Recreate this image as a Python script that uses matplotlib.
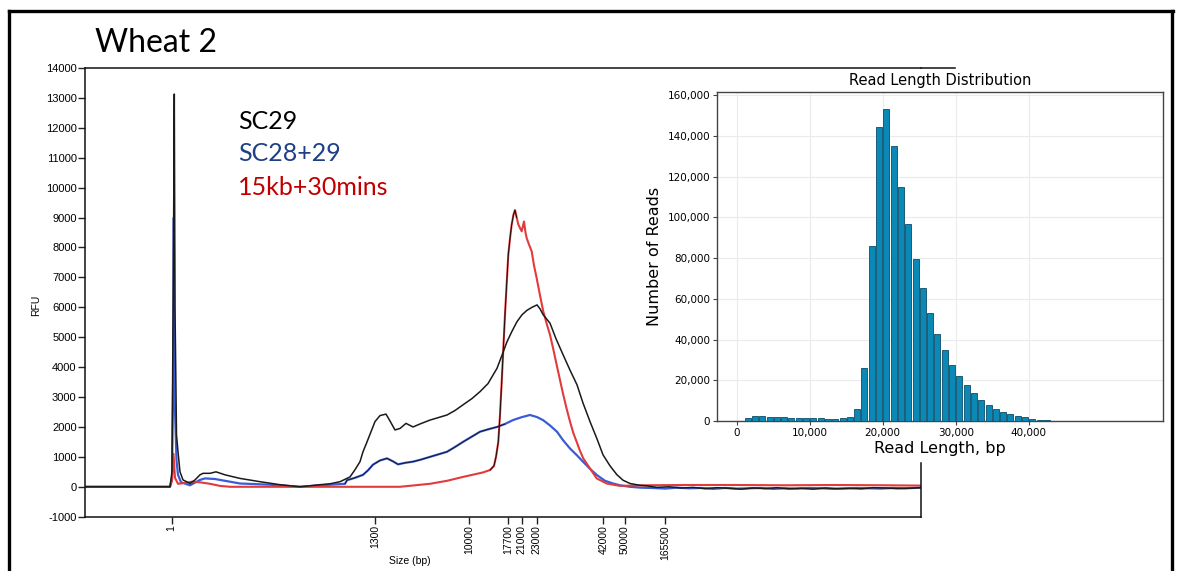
import matplotlib
matplotlib.use('Agg')
import matplotlib.pyplot as plt
from matplotlib.lines import Line2D
import numpy as np

# ---------------- data ----------------
# Electropherogram: migration position (arbitrary units) vs RFU
sc29_pos = [0, 85, 87, 88.5, 89.3, 90, 91.5, 93, 95, 98, 105, 110, 115, 118, 125, 131, 140, 155, 175, 195,
            215, 235, 245, 255, 265, 270, 275, 278, 282, 286, 290, 295, 301, 305, 310, 315, 321, 328, 335,
            345, 355, 362, 370, 378, 387, 395, 403, 412, 417, 422, 427, 432, 437, 442, 447, 452, 455, 458,
            465, 471, 478, 485, 492, 498, 505, 512, 518, 525, 532, 538, 545, 555, 562, 572, 584, 596, 608,
            620, 632, 644, 656, 668, 680, 692, 704, 716, 728, 740, 752, 764, 776, 788, 800, 812, 824, 836]
sc29_rfu = [0, 0, 500, 8000, 13130, 6000, 1740, 1170, 500, 230, 110, 230, 400, 450, 450, 500, 400, 280, 170, 70,
            0, 70, 100, 170, 330, 570, 840, 1170, 1500, 1840, 2180, 2380, 2430, 2200, 1900, 1950, 2120, 2000, 2100,
            2230, 2330, 2400, 2550, 2740, 2950, 3180, 3450, 3960, 4400, 4850, 5200, 5520, 5750, 5900, 6000, 6080, 5950, 5760,
            5470, 4950, 4420, 3900, 3410, 2800, 2180, 1600, 1070, 700, 400, 220, 110, 50, 30, -20, 0, -40, -20,
            -60, -30, -50, -80, -40, -60, -30, -70, -50, -80, -40, -60, -50, -70, -30, -40, -60, -50, -30]

sc2829_pos = [0, 85, 87, 88.3, 88.8, 89.6, 91.5, 93, 96, 105, 115, 120, 130, 140, 155, 185, 215, 245, 260,
              262, 270, 278, 283, 288, 295, 302, 308, 313, 320, 328, 335, 345, 355, 362, 370, 378, 387, 395,
              403, 412, 420, 428, 437, 445, 452, 458, 465, 472, 478, 485, 492, 498, 505, 512, 520, 528, 535,
              545, 556, 568, 580, 592, 604, 616, 628, 640, 652, 664, 676, 688, 700, 712, 724, 736, 748, 760,
              772, 784, 796, 808, 820, 836]
sc2829_rfu = [0, 0, 300, 4000, 9000, 3000, 900, 400, 150, 50, 230, 280, 260, 200, 110, 70, 0, 70, 100,
              220, 300, 400, 550, 740, 880, 950, 850, 750, 800, 840, 900, 1000, 1100, 1170, 1330, 1500, 1680, 1840,
              1920, 2000, 2100, 2230, 2330, 2400, 2330, 2230, 2050, 1840, 1560, 1280, 1050, 840, 600, 390, 200, 110, 50,
              0, -30, -40, -60, -30, -50, -40, -70, -40, -60, -50, -40, -70, -50, -60, -40, -50, -70, -60,
              -40, -50, -60, -40, -50, -30]

kb15_pos = [0, 85, 87, 88.5, 90, 93, 100, 107, 115, 125, 135, 145, 315, 345, 362, 378, 390, 398, 405, 409,
            411, 413.3, 415, 416.7, 418.3, 420, 421.7, 423.3, 425, 426.7, 428.5, 430, 431.7, 433.3, 435, 436.7,
            439, 440.5, 441.7, 444, 446.7, 449, 451.7, 455, 458.3, 461.7, 465, 468.3, 471.7, 475, 478.3, 481.7,
            485, 488.3, 491.7, 495, 498.3, 505, 511.7, 521.7, 535, 560, 600, 650, 700, 750, 800, 836]
kb15_rfu = [0, 0, 200, 1100, 300, 100, 130, 170, 150, 100, 30, 0, 0, 100, 200, 330, 420, 480, 560, 700,
            1000, 1500, 2400, 3500, 4600, 5760, 6800, 7760, 8300, 8770, 9100, 9250, 9000, 8770, 8650, 8540,
            8870, 8500, 8310, 8100, 7870, 7400, 6970, 6400, 5860, 5450, 5080, 4600, 4070, 3570, 3070, 2600,
            2180, 1800, 1500, 1200, 950, 610, 280, 110, 30, 50, 60, 60, 50, 60, 50, 40]

size_tick_pos = [86.7, 290, 384.3, 423.3, 436.7, 451.7, 518.3, 540, 580]
size_tick_labels = ['1', '1300', '10000', '17700', '21000', '23000', '42000', '50000', '165500']
rfu_ticks = [-1000, 0, 1000, 2000, 3000, 4000, 5000, 6000, 7000, 8000, 9000, 10000, 11000, 12000, 13000, 14000]

# Inset histogram: read length bin centre (bp) vs number of reads
read_len = [1500, 2500, 3500, 4500, 5500, 6500, 7500, 8500, 9500, 10500, 11500, 12500, 13500, 14500,
            15500, 16500, 17500, 18500, 19500, 20500, 21500, 22500, 23500, 24500, 25500, 26500, 27500,
            28500, 29500, 30500, 31500, 32500, 33500, 34500, 35500, 36500, 37500, 38500, 39500, 40500,
            41500, 42500, 43500]
n_reads = [1300, 2300, 2300, 2000, 1900, 1800, 1700, 1600, 1500, 1400, 1300, 1100, 1100, 1300,
           2100, 5900, 26200, 86000, 144500, 153000, 135000, 115000, 96500, 79500, 65500, 53000, 42500,
           34700, 27700, 22300, 17500, 13900, 10400, 8000, 6100, 4600, 3400, 2500, 1800, 1200,
           700, 300, 150]
inset_xticks = [0, 10000, 20000, 30000, 40000]
inset_yticks = [0, 20000, 40000, 60000, 80000, 100000, 120000, 140000, 160000]

# ---------------- figure ----------------
W, H = 1179, 571
fig = plt.figure(figsize=(W / 100, H / 100), dpi=100)


def fx(px):
    return px / W


def fy(py):
    return 1 - py / H


L, R, T, B = 85, 921, 68, 516.7
ax = fig.add_axes([fx(L), fy(B), fx(R) - fx(L), fy(T) - fy(B)])

sp = np.array(sc29_pos, float); sv = np.array(sc29_rfu, float)
bp = np.array(sc2829_pos, float); bv = np.array(sc2829_rfu, float)
rp = np.array(kb15_pos, float); rv = np.array(kb15_rfu, float)

ax.plot(bp, bv, color='#3a5cd6', lw=1.6, zorder=2)
ax.plot(bp, np.where((bp >= 255) & (bp <= 420), bv, np.nan), color='#111111', lw=0.6, zorder=3)
ax.plot(rp, rv, color='#e23b3b', lw=1.5, zorder=2)
ax.plot(rp, np.where((rp >= 405) & (rp <= 432), rv, np.nan), color='#111111', lw=0.7, zorder=3)
ax.plot(sp, sv, color='#1a1a1a', lw=1.1, zorder=4)

ax.set_xlim(0, 836)
ax.set_ylim(-1000, 14000)
ax.set_yticks(rfu_ticks)
ax.set_yticklabels([str(v) for v in rfu_ticks], fontsize=8, family='Liberation Sans')
ax.set_xticks(size_tick_pos)
ax.set_xticklabels(size_tick_labels, rotation=90, fontsize=7.5, family='Liberation Sans')
ax.tick_params(axis='both', direction='out', length=5, width=1, color='#222222', pad=1)
for s in ['left', 'top', 'bottom']:
    ax.spines[s].set_linewidth(1.1)
    ax.spines[s].set_color('#111111')
ax.spines['right'].set_visible(False)

# axis titles placed like the reference
fig.text(fx(36), fy(305), 'RFU', fontsize=7.5, family='Liberation Sans', rotation=90,
         ha='center', va='center')
fig.text(fx(410), fy(561), 'Size (bp)', fontsize=7.5, family='Liberation Sans',
         ha='center', va='center')

# partial right spine and top line extension
fig.add_artist(Line2D([fx(R), fx(R)], [fy(463), fy(B)], color='#111111', lw=1.1))
fig.add_artist(Line2D([fx(R), fx(955)], [fy(T), fy(T)], color='#111111', lw=1.1))

# legend texts
ax.text(0.183, 0.865, 'SC29', transform=ax.transAxes, fontsize=18, family='Lato', color='black')
ax.text(0.183, 0.792, 'SC28+29', transform=ax.transAxes, fontsize=18, family='Lato', color='#1f3f86')
ax.text(0.183, 0.718, '15kb+30mins', transform=ax.transAxes, fontsize=18, family='Lato', color='#c00000')

# title
fig.text(fx(95), fy(52), 'Wheat 2', fontsize=23, family='Lato', color='black', va='baseline')

# ---------------- inset ----------------
IL, IR, IT, IB = 717, 1163, 92, 421
ai = fig.add_axes([fx(IL), fy(IB), fx(IR) - fx(IL), fy(IT) - fy(IB)])
ai.set_facecolor('white')
ai.bar(read_len, n_reads, width=820, color='#0a89b6', edgecolor='#0d4c68', linewidth=0.6, zorder=3)
ai.set_xlim(-2700, 58400)
ai.set_ylim(0, 161500)
ai.set_xticks(inset_xticks)
ai.set_xticklabels([f'{v:,}' for v in inset_xticks], fontsize=7.5, family='DejaVu Sans')
ai.set_yticks(inset_yticks)
ai.set_yticklabels([f'{v:,}' for v in inset_yticks], fontsize=7.5, family='DejaVu Sans')
ai.grid(True, color='#ebebeb', lw=0.8, zorder=0)
ai.set_axisbelow(True)
for s in ai.spines.values():
    s.set_color('#444444')
    s.set_linewidth(1.0)
ai.tick_params(axis='both', direction='out', length=3, width=0.8, color='#444444', pad=2)
ai.set_title('Read Length Distribution', fontsize=10.5, family='DejaVu Sans', pad=5)
ai.set_xlabel('Read Length, bp', fontsize=11.5, family='DejaVu Sans', labelpad=2)
ai.set_ylabel('Number of Reads', fontsize=11.5, family='DejaVu Sans', labelpad=4)

# outer frame
fw = 2.4
fig.add_artist(Line2D([fx(9.5), fx(9.5)], [fy(11), 0], color='black', lw=fw))
fig.add_artist(Line2D([fx(8.5), fx(1172.5)], [fy(11), fy(11)], color='black', lw=fw))
fig.add_artist(Line2D([fx(1172), fx(1172)], [fy(11), 0], color='black', lw=fw))

fig.savefig('out.png', dpi=100)
